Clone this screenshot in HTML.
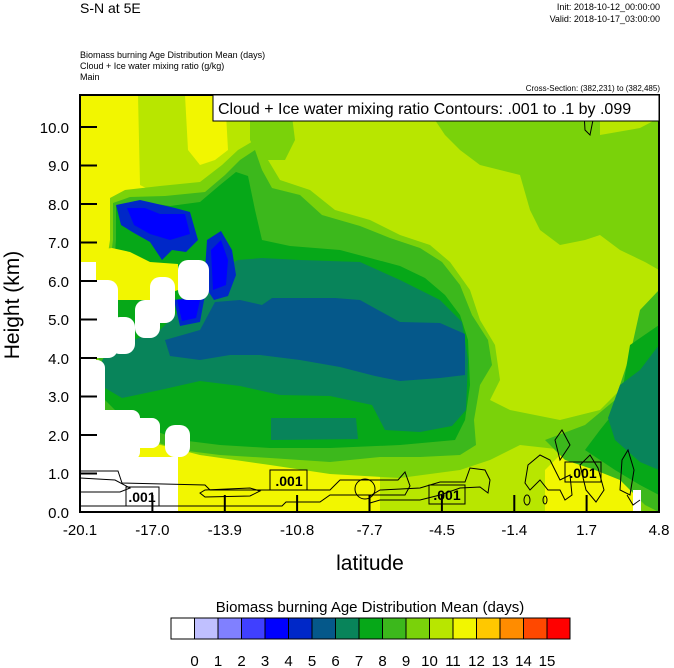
<!DOCTYPE html>
<html><head><meta charset="utf-8"><style>
body{margin:0;background:#fff;width:674px;height:668px;overflow:hidden;font-family:"Liberation Sans",sans-serif}
svg{display:block}
text{font-family:"Liberation Sans",sans-serif}
</style></head><body>
<svg width="674" height="668" viewBox="0 0 674 668" xmlns="http://www.w3.org/2000/svg">
<defs><clipPath id="pc"><rect x="80" y="95" width="579" height="417"/></clipPath></defs>
<text x="80" y="13" font-size="14">S-N at 5E</text>
<text x="660" y="10" font-size="9" text-anchor="end">Init: 2018-10-12_00:00:00</text>
<text x="660" y="22" font-size="9" text-anchor="end">Valid: 2018-10-17_03:00:00</text>
<text x="80" y="58" font-size="9">Biomass burning Age Distribution Mean   (days)</text>
<text x="80" y="69" font-size="9">Cloud + Ice water mixing ratio   (g/kg)</text>
<text x="80" y="80" font-size="9">Main</text>
<text x="660" y="91" font-size="8" text-anchor="end">Cross-Section: (382,231) to (382,485)</text>
<g clip-path="url(#pc)">
<rect x="80" y="95" width="579" height="417" fill="#b8e600"/>
<polygon fill="#f2f600" points="80,95 138,95 140,185 160,195 175,200 185,230 180,262 150,270 130,275 100,262 80,262"/>
<polygon fill="#f2f600" points="185,95 225,95 228,150 215,160 200,165 188,150"/>
<polygon fill="#f2f600" points="80,440 140,440 200,455 260,462 330,470 380,470 380,512 80,512"/>
<polygon fill="#f2f600" points="545,470 560,455 600,460 640,470 645,512 545,512"/>
<polygon fill="#7ad20a" points="432,95 600,95 600,135 640,128 659,118 659,270 645,262 620,250 600,235 585,240 560,245 540,230 530,210 520,175 480,165 460,150 445,135 435,120"/>
<polygon fill="#7ad20a" points="250,100 290,100 295,140 285,160 260,160 250,140"/>
<polygon fill="#7ad20a" points="110,198 125,190 160,186 200,182 222,165 238,150 255,140 268,160 280,180 310,190 335,210 370,220 400,235 430,245 450,262 470,290 480,320 495,345 500,380 490,400 510,410 560,420 600,410 630,380 645,330 659,300 659,512 640,512 630,480 600,462 565,450 520,445 490,460 460,470 400,478 330,474 270,465 200,455 150,442 105,425 92,400 96,330 104,280 110,240"/>
<polygon fill="#3cb81c" points="113,203 130,197 165,196 205,192 225,175 240,160 255,150 262,170 272,188 300,195 322,215 360,226 390,238 420,248 442,262 460,285 472,315 488,340 492,365 480,385 474,420 476,445 460,455 420,457 380,457 330,462 270,458 220,455 180,450 120,430 100,410 98,330 108,280 113,240"/>
<polygon fill="#3cb81c" points="640,310 659,290 659,512 645,505 620,480 595,470 565,460 545,440 585,425 615,400 630,355"/>
<polygon fill="#06a818" points="116,206 135,201 170,206 200,202 220,185 236,172 248,176 255,210 262,240 290,246 340,250 370,258 400,266 425,278 445,295 460,315 468,340 470,385 465,420 455,440 400,445 330,448 270,448 220,445 180,440 125,420 105,400 102,330 113,280 116,240"/>
<polygon fill="#06a818" points="630,345 659,325 659,495 640,485 615,470 585,450 600,430 620,405"/>
<polygon fill="#08845a" points="102,360 120,345 160,330 185,305 212,272 238,260 262,258 300,260 360,262 400,280 440,300 462,322 468,360 466,410 452,426 420,432 385,430 372,405 330,396 280,395 240,386 200,381 160,390 122,398 105,388"/>
<polygon fill="#08845a" points="271,418 356,418 358,439 271,440"/>
<polygon fill="#08845a" points="620,385 640,370 659,345 659,470 640,462 615,440 608,418"/>
<polygon fill="#05588a" points="165,340 200,330 215,302 240,300 262,305 272,298 300,298 335,298 360,300 378,310 400,322 440,323 465,334 465,375 440,378 400,381 375,376 340,367 300,360 260,355 230,355 200,360 170,356"/>
<!-- yellow under blue -->
<polygon fill="#f2f600" points="96,250 112,248 130,252 150,262 178,264 178,290 150,300 96,300"/>
<polygon fill="#0028c8" points="116,205 140,200 175,208 190,212 198,240 186,252 172,250 162,260 150,242 134,233 121,225"/>
<polygon fill="#0028c8" points="207,240 221,231 232,250 236,275 228,296 214,300 204,285"/>
<polygon fill="#0028c8" points="174,300 205,295 200,322 180,326"/>
<polygon fill="#0000ff" points="127,208 145,208 160,214 185,214 190,234 170,240 150,234 134,225"/>
<polygon fill="#0000ff" points="211,250 221,240 228,260 226,285 213,290"/>
<polygon fill="#0000ff" points="177,300 200,300 196,318 182,321"/>
<g fill="#fff">
<rect x="80" y="262" width="16" height="250"/>
<rect x="80" y="280" width="38" height="78" rx="10"/>
<rect x="110" y="317" width="25" height="37" rx="10"/>
<rect x="135" y="300" width="25" height="38" rx="10"/>
<rect x="150" y="277" width="25" height="46" rx="10"/>
<rect x="178" y="260" width="31" height="40" rx="10"/>
<rect x="80" y="360" width="25" height="100" rx="8"/>
<rect x="80" y="410" width="60" height="50" rx="8"/>
<rect x="131" y="418" width="29" height="30" rx="8"/>
<rect x="165" y="425" width="25" height="32" rx="10"/>
<rect x="80" y="457" width="98" height="55"/>
<rect x="633" y="490" width="8" height="22"/>
</g>
<g fill="none" stroke="#000" stroke-width="1">
<path d="M80,471 L118,471 L122,483 L205,485 L210,490 L330,490 L340,480 L398,480 L405,472 L410,486 L405,495 L330,495 L320,502 L286,502 L282,506 L80,506"/>
<path d="M80,478 L115,480 L130,488 L120,492 L80,492"/>
<path d="M205,490 L250,488 L260,491 L250,496 L205,497 L200,493 Z"/>
<circle cx="365" cy="489" r="10"/>
<path d="M370,503 L380,500 L420,500 L440,495 L460,488 L480,487 L488,493 L490,480 L485,470 L470,468 L465,482 L440,482 L420,488 L380,490 L370,496 Z"/>
<path d="M525,483 L528,465 L540,455 L550,460 L555,470 L560,480 L570,475 L572,495 L565,500 L560,490 L548,490 L540,480 L530,490 Z"/>
<path d="M555,440 L562,430 L570,445 L560,460 Z"/>
<path d="M580,465 L590,455 L598,468 L604,490 L596,502 L586,490 Z"/>
<path d="M622,460 L628,450 L634,470 L630,495 L620,490 Z"/>
<path d="M627,495 L633,505 L640,500"/>
<path d="M583,95 L585,130 L590,135 L595,110"/>
<ellipse cx="527" cy="500" rx="3" ry="5"/><ellipse cx="545" cy="500" rx="2" ry="4"/>
</g>
</g>
<g font-size="14" font-weight="bold" text-anchor="middle">
<rect x="126" y="487" width="33" height="19" fill="none" stroke="#000"/><text x="142" y="502">.001</text>
<rect x="270" y="470" width="37" height="20" fill="none" stroke="#000"/><text x="289" y="486">.001</text>
<rect x="429" y="485" width="36" height="19" fill="none" stroke="#000"/><text x="447" y="500">.001</text>
<rect x="565" y="462" width="36" height="20" fill="none" stroke="#000"/><text x="583" y="478">.001</text>
</g>
<rect x="80" y="95" width="579" height="417" fill="none" stroke="#000" stroke-width="2"/>
<rect x="213" y="95" width="446" height="26" fill="#fff" stroke="#000" stroke-width="1"/>
<text x="218" y="114" font-size="16">Cloud + Ice water mixing ratio Contours: .001 to .1 by .099</text>
<g stroke="#000" stroke-width="2">
<line x1="80" y1="127" x2="97" y2="127"/><line x1="80" y1="165.5" x2="97" y2="165.5"/><line x1="80" y1="204" x2="97" y2="204"/><line x1="80" y1="242.5" x2="97" y2="242.5"/><line x1="80" y1="281" x2="97" y2="281"/><line x1="80" y1="319.5" x2="97" y2="319.5"/><line x1="80" y1="358" x2="97" y2="358"/><line x1="80" y1="396.5" x2="97" y2="396.5"/><line x1="80" y1="435" x2="97" y2="435"/><line x1="80" y1="473.5" x2="97" y2="473.5"/>
<line x1="152.4" y1="512" x2="152.4" y2="495"/><line x1="224.8" y1="512" x2="224.8" y2="495"/><line x1="297.1" y1="512" x2="297.1" y2="495"/><line x1="369.5" y1="512" x2="369.5" y2="495"/><line x1="441.9" y1="512" x2="441.9" y2="495"/><line x1="514.3" y1="512" x2="514.3" y2="495"/><line x1="586.6" y1="512" x2="586.6" y2="495"/>
</g>
<g font-size="15" text-anchor="end">
<text x="69" y="133">10.0</text><text x="69" y="171">9.0</text><text x="69" y="210">8.0</text><text x="69" y="248">7.0</text><text x="69" y="287">6.0</text><text x="69" y="325">5.0</text><text x="69" y="364">4.0</text><text x="69" y="402">3.0</text><text x="69" y="441">2.0</text><text x="69" y="479">1.0</text><text x="69" y="518">0.0</text>
</g>
<g font-size="15" text-anchor="middle">
<text x="80" y="535">-20.1</text><text x="152.4" y="535">-17.0</text><text x="224.8" y="535">-13.9</text><text x="297.1" y="535">-10.8</text><text x="369.5" y="535">-7.7</text><text x="441.9" y="535">-4.5</text><text x="514.3" y="535">-1.4</text><text x="586.6" y="535">1.7</text><text x="659" y="535">4.8</text>
</g>
<text x="370" y="570" font-size="21" text-anchor="middle">latitude</text>
<text transform="translate(19,305) rotate(-90)" font-size="21" text-anchor="middle">Height (km)</text>
<text x="370" y="612" font-size="15" text-anchor="middle">Biomass burning Age Distribution Mean  (days)</text>
<g stroke="#000" stroke-width="1">
<rect x="171" y="618" width="23.5" height="21" fill="#ffffff"/>
<rect x="194.5" y="618" width="23.5" height="21" fill="#c0c0ff"/>
<rect x="218" y="618" width="23.5" height="21" fill="#8080ff"/>
<rect x="241.5" y="618" width="23.5" height="21" fill="#4040ff"/>
<rect x="265" y="618" width="23.5" height="21" fill="#0000ff"/>
<rect x="288.5" y="618" width="23.5" height="21" fill="#0028c8"/>
<rect x="312" y="618" width="23.5" height="21" fill="#05588a"/>
<rect x="335.5" y="618" width="23.5" height="21" fill="#08845a"/>
<rect x="359" y="618" width="23.5" height="21" fill="#06a818"/>
<rect x="382.5" y="618" width="23.5" height="21" fill="#3cb81c"/>
<rect x="406" y="618" width="23.5" height="21" fill="#7ad20a"/>
<rect x="429.5" y="618" width="23.5" height="21" fill="#b8e600"/>
<rect x="453" y="618" width="23.5" height="21" fill="#f2f600"/>
<rect x="476.5" y="618" width="23.5" height="21" fill="#ffc800"/>
<rect x="500" y="618" width="23.5" height="21" fill="#ff8c00"/>
<rect x="523.5" y="618" width="23.5" height="21" fill="#ff4800"/>
<rect x="547" y="618" width="23" height="21" fill="#ff0000"/>
</g>
<g font-size="15" text-anchor="middle">
<text x="194.5" y="666">0</text><text x="218" y="666">1</text><text x="241.5" y="666">2</text><text x="265" y="666">3</text><text x="288.5" y="666">4</text><text x="312" y="666">5</text><text x="335.5" y="666">6</text><text x="359" y="666">7</text><text x="382.5" y="666">8</text><text x="406" y="666">9</text><text x="429.5" y="666">10</text><text x="453" y="666">11</text><text x="476.5" y="666">12</text><text x="500" y="666">13</text><text x="523.5" y="666">14</text><text x="547" y="666">15</text>
</g>
</svg>
</body></html>
